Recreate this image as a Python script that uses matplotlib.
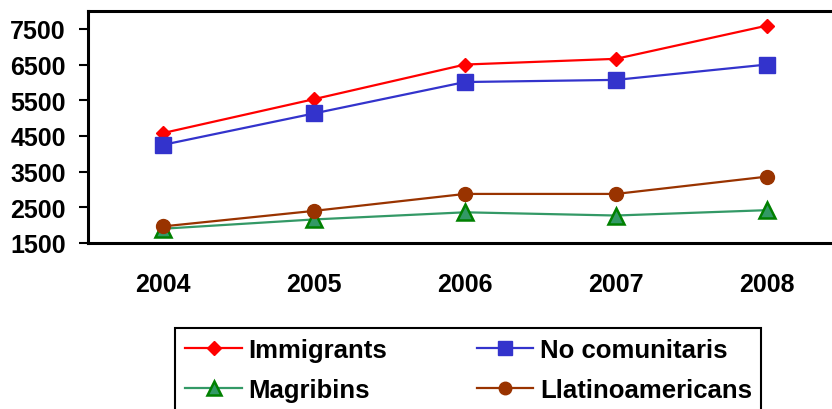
import matplotlib
matplotlib.use('Agg')
import matplotlib.pyplot as plt
from matplotlib.patches import Rectangle

plt.rcParams['font.family'] = ['Liberation Sans', 'DejaVu Sans']
plt.rcParams['font.weight'] = 'bold'

# dades
years = ['2004', '2005', '2006', '2007', '2008']
immigrants = [4580, 5530, 6500, 6660, 7590]
no_comunitaris = [4250, 5130, 6010, 6070, 6500]
magribins = [1900, 2160, 2360, 2270, 2420]
llatinoamericans = [1965, 2400, 2875, 2875, 3360]

fig = plt.figure(figsize=(8.32, 4.10), dpi=100)
ax = fig.add_axes([87.5 / 832, 166 / 410, 755 / 832, 232 / 410])

x = range(len(years))
l1, = ax.plot(x, immigrants, color='#ff0000', lw=1.6, marker='D', ms=7.5,
              mfc='#ff0000', mec='#ff0000', label='Immigrants')
l2, = ax.plot(x, no_comunitaris, color='#3333cc', lw=1.6, marker='s', ms=11,
              mfc='#3333cc', mec='#3333cc', label='No comunitaris')
l3, = ax.plot(x, magribins, color='#339966', lw=1.6, marker='^', ms=11,
              mfc='#339966', mec='#008000', mew=1.8, label='Magribins')
l4, = ax.plot(x, llatinoamericans, color='#993300', lw=1.6, marker='o', ms=10,
              mfc='#993300', mec='#993300', label='Llatinoamericans')

ax.set_xlim(-0.5, 4.5)
ax.set_ylim(1500, 8000)
ax.set_xticks(list(x), years)
ax.set_yticks(range(1500, 7501, 1000))
ax.tick_params(axis='x', length=0, pad=21, labelsize=18)
ax.tick_params(axis='y', length=6.5, width=1.5, pad=9, labelsize=18)
for s in ['top', 'bottom', 'left']:
    ax.spines[s].set_linewidth(2.2)
ax.spines['right'].set_visible(False)

leg = fig.legend([l1, l3, l2, l4],
                 ['Immigrants', 'Magribins', 'No comunitaris', 'Llatinoamericans'],
                 ncol=2, loc='upper left', bbox_to_anchor=(175 / 832, 1 - 329 / 410),
                 frameon=False, fontsize=18.5, handlelength=2.2,
                 handletextpad=0.25, columnspacing=3.5, labelspacing=0.6,
                 borderpad=0.4, borderaxespad=0, markerscale=0.9)
# marc de la llegenda, tallat per sota com a l'original
fig.patches.append(Rectangle((175 / 832, -0.05), 586 / 832, 0.05 + 81 / 410,
                             transform=fig.transFigure, fill=False,
                             edgecolor='black', linewidth=1.5))

fig.savefig('out.png', dpi=100)
